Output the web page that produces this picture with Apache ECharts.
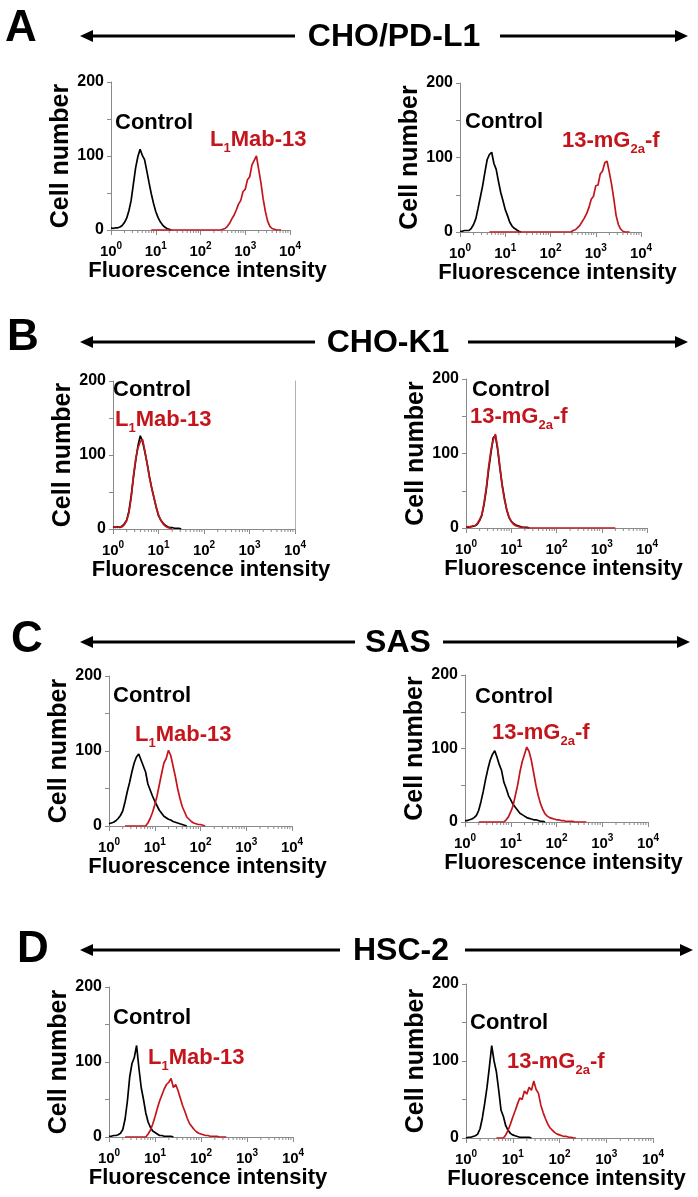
<!DOCTYPE html>
<html><head><meta charset="utf-8">
<script src="https://cdn.jsdelivr.net/npm/echarts@6/dist/echarts.min.js"></script>
<style>html,body{margin:0;padding:0;background:#fff}#c{width:698px;height:1197px}</style>
</head><body><div id="c"></div><script>
// ---------- DATA ----------
// flow-cytometer channel intensities (1/20 decade steps, 10^0 .. 10^4)
const CH = [1,1.122,1.259,1.413,1.585,1.778,1.995,2.239,2.512,2.818,3.162,3.548,3.981,4.467,5.012,5.623,6.310,7.079,7.943,8.913,
  10,11.22,12.59,14.13,15.85,17.78,19.95,22.39,25.12,28.18,31.62,35.48,39.81,44.67,50.12,56.23,63.10,70.79,79.43,89.13,
  100,112.2,125.9,141.3,158.5,177.8,199.5,223.9,251.2,281.8,316.2,354.8,398.1,446.7,501.2,562.3,631.0,707.9,794.3,891.3,
  1000,1122,1259,1413,1585,1778,1995,2239,2512,2818,3162,3548,3981,4467,5012,5623,6310,7079,7943,8913,10000];
const MINOR_TICKS = [2,3,4,5,6,7,8,9,20,30,40,50,60,70,80,90,200,300,400,500,600,700,800,900,2000,3000,4000,5000,6000,7000,8000,9000];
const X_TICK_EXP = ['0','1','2','3','4'];
const Y_LABELS = [0,100,200];

// cell counts per channel; "from" = index of first channel in CH
const A_L_ctrl = {from:0, n:[3,2,3,3,4,6,10,16,26,40,62,84,99,109,101,95,80,64,49,36,25,17,11,7,4,2,1,0]};
const A_L_ab = {from:18, n:[0,0,0,0,0,0,0,0,0,0,0,0,0,0,0,0,0,0,0,0,0,0,0,0,0,0,0,0,0,0,0,0,
  1,2,5,9,15,20,27,35,40,52,55,68,72,88,94,100,82,64,42,25,12,5,2,1,0,0,0]};
const A_R_ctrl = {from:0, n:[1,1,2,2,2,5,10,18,32,47,62,80,97,104,107,92,84,68,53,42,30,22,13,8,5,3,1,0]};
const A_R_ab = {from:13, n:[0,0,0,0,0,0,0,0,0,0,0,0,0,0,0,0,0,0,0,0,0,0,0,0,0,0,0,0,0,0,0,0,0,0,0,0,0,
  2,3,6,9,14,19,25,33,44,48,62,63,78,82,93,95,80,64,44,22,10,4,1,0,0,0]};
const B_L_ctrl = {from:0, n:[3,2,3,2,4,7,12,24,45,70,93,113,126,118,104,89,71,56,42,29,18,12,8,5,3,2,2,1,1,1,0]};
const B_L_ab = {from:0, n:[2,3,2,3,3,6,11,22,42,72,95,110,118,121,106,88,70,55,43,30,19,12,7,4,2,1,0]};
const B_R_ctrl = {from:0, n:[1,1,2,2,3,5,10,17,32,52,78,100,121,124,105,80,58,40,24,14,9,6,4,3,2,1,1,1,0]};
const B_R_ab = {from:0, n:[1,2,1,3,3,6,11,18,34,55,82,104,118,126,108,82,56,38,25,15,9,5,3,2,1,1,
  0,0,0,0,0,0,0,0,0,0,0,0,0,0,0,0,0,0,0,0,0,0,0,0,0,0,0,0,0,0,0,0,0,0,0,0,0,0,0,0,0]};
const C_L_ctrl = {from:0, n:[3,4,5,7,10,14,20,32,46,58,72,84,92,96,88,80,72,56,48,40,33,27,21,17,13,11,9,8,6,5,4,3,2,1,0]};
const C_L_ab = {from:7, n:[0,0,0,0,0,0,0,0,0,0,4,10,18,28,40,55,70,84,90,101,94,80,66,50,37,26,19,12,9,6,4,3,2,2,1,0]};
const C_R_ctrl = {from:0, n:[2,2,3,4,6,9,16,28,42,58,72,84,92,97,88,78,70,54,46,36,30,24,20,16,12,10,8,6,5,4,3,3,2,1,1,0]};
const C_R_ab = {from:6, n:[0,0,0,0,0,0,0,0,0,0,0,0,3,7,14,22,36,50,68,82,92,102,96,84,67,50,36,25,17,11,8,6,5,4,3,3,2,2,1,1,1,1,0,0,0,0,0,0]};
const D_L_ctrl = {from:0, n:[1,1,2,2,3,5,10,24,48,80,98,106,122,92,66,50,32,20,13,8,6,4,2,2,1,1,1,1,0]};
const D_L_ab = {from:7, n:[0,0,0,0,0,0,0,0,0,0,4,9,17,27,38,48,56,64,70,73,78,66,70,62,52,42,34,25,18,14,10,7,5,4,3,2,2,1,1,1,1,0,0,0,0]};
const D_R_ctrl = {from:0, n:[0,1,1,2,3,5,12,26,45,66,92,120,100,86,62,36,28,16,10,6,4,3,2,1,1,1,1,1,0]};
const D_R_ab = {from:13, n:[0,0,0,0,4,10,18,27,35,44,52,50,61,57,66,62,74,63,58,43,33,25,18,13,10,7,5,4,3,2,2,1,1,0,0]};

const ROW_TITLES = ['CHO/PD-L1','CHO-K1','SAS','HSC-2'];
const ROW_LETTERS = ['A','B','C','D'];
const AB_L1 = '{m|L}{u|1}{m|Mab-13}';
const AB_13 = '{m|13-mG}{u|2a}{m|-f}';

// ---------- LAYOUT ----------
const FF = '"Liberation Sans", Arial, Helvetica, sans-serif';
const RED = '#c4151c';
const AXC = '#8a8a8a';
const PANELS = [
  {g:[111,82,179,148],  c:A_L_ctrl, a:A_L_ab, lab:AB_L1, cp:[115,123],  ap:[210,140]},
  {g:[460,83,181,149],  c:A_R_ctrl, a:A_R_ab, lab:AB_13, cp:[465,122],  ap:[562,141]},
  {g:[113,381,182,148], c:B_L_ctrl, a:B_L_ab, lab:AB_L1, cp:[113,390],  ap:[115,420]},
  {g:[466,379,181,149], c:B_R_ctrl, a:B_R_ab, lab:AB_13, cp:[472,390],  ap:[470,417]},
  {g:[109,676,183,150], c:C_L_ctrl, a:C_L_ab, lab:AB_L1, cp:[113,696],  ap:[135,735]},
  {g:[465,675,183,147], c:C_R_ctrl, a:C_R_ab, lab:AB_13, cp:[475,697],  ap:[492,733]},
  {g:[109,987,184,150], c:D_L_ctrl, a:D_L_ab, lab:AB_L1, cp:[113,1018], ap:[148,1058]},
  {g:[466,984,187,154], c:D_R_ctrl, a:D_R_ab, lab:AB_13, cp:[470,1023], ap:[507,1062]}
];
const ROWS = [
  {y:36,  letter:[5,29],   l:[80,295], t:394, r:[500,688]},
  {y:342, letter:[7,338],  l:[80,315], t:388, r:[468,688]},
  {y:642, letter:[11,640], l:[80,355], t:398, r:[443,690]},
  {y:950, letter:[17,950], l:[80,340], t:401, r:[465,693]}
];

function pairs(c){ return c.n.map((v,k)=>[CH[c.from+k], v]); }

const grids=[], xAxes=[], yAxes=[], series=[], graphics=[];
PANELS.forEach((p,i)=>{
  grids.push({left:p.g[0], top:p.g[1], width:p.g[2], height:p.g[3], containLabel:false, outerBoundsMode:'none'});
  xAxes.push({
    type:'log', logBase:10, min:1, max:10000, splitNumber:4, gridIndex:i,
    axisLine:{show:true, lineStyle:{color:AXC, width:1}},
    axisTick:{show:true, length:5, lineStyle:{color:AXC}},
    splitLine:{show:false}, minorTick:{show:false},
    axisLabel:{margin:11, showMinLabel:true, showMaxLabel:true,
      formatter:v=>'{b|10}{s|'+X_TICK_EXP[Math.round(Math.log10(v))]+'}',
      rich:{b:{fontSize:15,fontWeight:'bold',fontFamily:FF,color:'#000',lineHeight:22},
            s:{fontSize:10,fontWeight:'bold',fontFamily:FF,color:'#000',lineHeight:10,verticalAlign:'top'}}},
    name:'Fluorescence intensity', nameLocation:'middle', nameGap:28,
    nameTextStyle:{fontSize:22,fontWeight:'bold',fontFamily:FF,color:'#000',padding:[0,0,0,14]}
  });
  yAxes.push({
    type:'value', min:0, max:200, interval:50, gridIndex:i,
    axisLine:{show:true, lineStyle:{color:AXC, width:1}},
    axisTick:{show:true, length:4, lineStyle:{color:AXC}},
    splitLine:{show:false},
    axisLabel:{margin:7, fontSize:16, fontWeight:'bold', fontFamily:FF, color:'#000',
      formatter:v=>Y_LABELS.includes(v)?String(v):''},
    name:'Cell number', nameLocation:'middle', nameGap:36,
    nameTextStyle:{fontSize:25,fontWeight:'bold',fontFamily:FF,color:'#000'}
  });
  series.push({type:'custom', xAxisIndex:i, yAxisIndex:i, silent:true, z:1,
    data:MINOR_TICKS.map(v=>[v,0]),
    renderItem:(params,api)=>{const q=api.coord([api.value(0),0]);
      return {type:'line', shape:{x1:q[0],y1:q[1],x2:q[0],y2:q[1]+3}, style:{stroke:AXC,lineWidth:1}};}});
  series.push({type:'line', xAxisIndex:i, yAxisIndex:i, data:pairs(p.c), showSymbol:false, symbol:'none',
    lineStyle:{color:'#000', width:1.7}, z:2});
  series.push({type:'line', xAxisIndex:i, yAxisIndex:i, data:pairs(p.a), showSymbol:false, symbol:'none',
    lineStyle:{color:RED, width:1.7}, z:3});
  graphics.push({type:'text', x:p.cp[0], y:p.cp[1], z:10,
    style:{text:'Control', fontSize:22, fontWeight:'bold', fontFamily:FF, fill:'#000', align:'left', verticalAlign:'middle'}});
  graphics.push({type:'text', x:p.ap[0], y:p.ap[1], z:10,
    style:{text:p.lab, align:'left', verticalAlign:'middle', fill:RED,
      rich:{m:{fontSize:22,fontWeight:'bold',fontFamily:FF,fill:RED,color:RED,lineHeight:30},
            u:{fontSize:13,fontWeight:'bold',fontFamily:FF,fill:RED,color:RED,lineHeight:14,verticalAlign:'bottom'}}}});
});
// right frame line of panel B-left
yAxes.push({type:'value', gridIndex:2, position:'right', min:0, max:200,
  axisLine:{show:true, lineStyle:{color:'#b0b0b0'}}, axisTick:{show:false}, axisLabel:{show:false}, splitLine:{show:false}});

ROWS.forEach((r,i)=>{
  graphics.push({type:'text', x:r.letter[0], y:r.letter[1],
    style:{text:ROW_LETTERS[i], fontSize:44, fontWeight:'bold', fontFamily:FF, fill:'#000', align:'left', verticalAlign:'middle'}});
  graphics.push({type:'text', x:r.t, y:r.y+1.5,
    style:{text:ROW_TITLES[i], fontSize:32, fontWeight:'bold', fontFamily:FF, fill:'#000', align:'center', verticalAlign:'middle'}});
  graphics.push({type:'line', shape:{x1:r.l[0]+8, y1:r.y, x2:r.l[1], y2:r.y}, style:{stroke:'#000', lineWidth:3}});
  graphics.push({type:'polygon', shape:{points:[[r.l[0],r.y],[r.l[0]+13,r.y-6],[r.l[0]+13,r.y+6]]}, style:{fill:'#000'}});
  graphics.push({type:'line', shape:{x1:r.r[0], y1:r.y, x2:r.r[1]-8, y2:r.y}, style:{stroke:'#000', lineWidth:3}});
  graphics.push({type:'polygon', shape:{points:[[r.r[1],r.y],[r.r[1]-13,r.y-6],[r.r[1]-13,r.y+6]]}, style:{fill:'#000'}});
});

const chart = echarts.init(document.getElementById('c'), null, {renderer:'canvas'});
chart.setOption({
  animation:false, backgroundColor:'#fff',
  grid:grids, xAxis:xAxes, yAxis:yAxes, series:series, graphic:graphics
});
</script></body></html>
